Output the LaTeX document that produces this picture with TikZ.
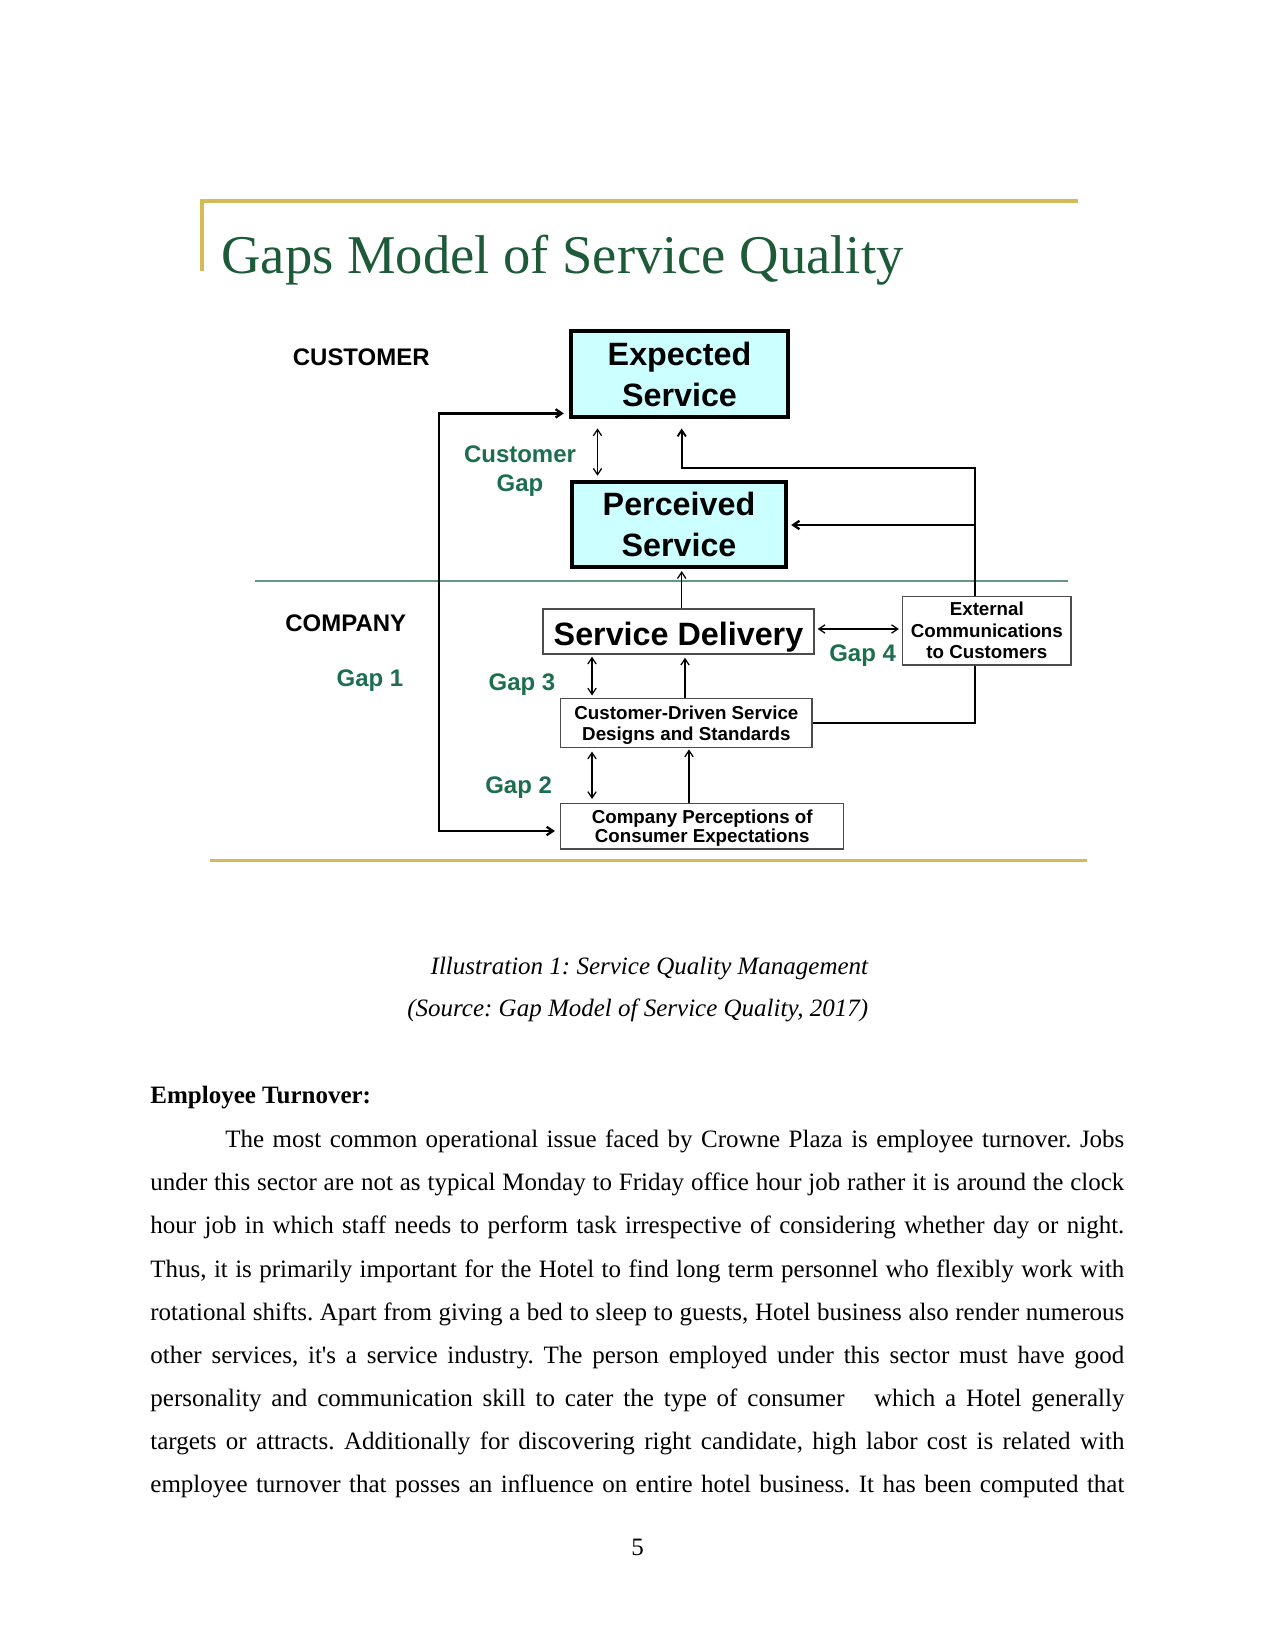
\documentclass[tikz,border=0pt]{standalone}
\usepackage{fontspec}
\setmainfont{Liberation Serif}
\setsansfont{Liberation Sans}
\usetikzlibrary{arrows.meta}

\definecolor{gapgreen}{RGB}{28,110,78}
\definecolor{titlegreen}{RGB}{28,90,56}
\definecolor{rulegold}{RGB}{214,186,86}
\definecolor{divider}{RGB}{100,150,130}
\definecolor{boxcyan}{RGB}{204,255,255}

\begin{document}
\begin{tikzpicture}[x=0.48pt,y=-0.48pt,
    bigbox/.style={draw=black,line width=2pt,fill=boxcyan,inner sep=0pt,align=center,
      font=\sffamily\bfseries\fontsize{15.5}{19.7}\selectfont},
    smallbox/.style={draw=black!70,line width=0.6pt,fill=white,inner sep=0pt,align=center,
      font=\sffamily\bfseries\fontsize{9}{10.3}\selectfont},
    side/.style={anchor=west,inner sep=0pt,font=\sffamily\bfseries\fontsize{11.5}{14}\selectfont},
    gaplabel/.style={text=gapgreen,inner sep=0pt,align=center,
      font=\sffamily\bfseries\fontsize{11.5}{14.2}\selectfont},
    thinarrow/.style={line width=0.6pt,-{Straight Barb[length=3pt,width=4pt]}},
    twoway/.style={line width=0.6pt,{Straight Barb[length=3pt,width=4pt]}-{Straight Barb[length=3pt,width=4pt]}},
    feed/.style={line width=1.1pt},
    goldrule/.style={draw=rulegold,line width=1.5pt},
    body/.style={inner sep=0pt,font=\frenchspacing\fontsize{12}{20.7}\selectfont}]

  \fill[white] (0,0) rectangle (1275,1650);
  \useasboundingbox (0,0) rectangle (1275,1650);

  % frame of the slide
  \draw[goldrule] (202,271) -- (202,201) -- (1078,201);
  \draw[goldrule] (210,860.5) -- (1086.7,860.5);
  \node[anchor=base west,inner sep=0pt,text=titlegreen,
    font=\fontsize{26.2}{30}\selectfont] (title) at (221,273.5) {Gaps Model of Service Quality};

  % customer side
  \node[side] (customer) at (292.5,357.7) {CUSTOMER};
  \node[bigbox,minimum width=104pt,minimum height=41.3pt] (exp) at (679.5,374) {Expected\\Service};
  \node[bigbox,minimum width=102.7pt,minimum height=40.8pt,text depth=-3.4pt] (perc) at (679,524.5) {Perceived\\Service};
  \node[gaplabel] (custgap) at (520,471.3) {Customer\\Gap};

  \draw[divider,line width=1pt] (254.6,580.7) -- (1068,580.7);

  % company side
  \node[side] (company) at (285,622.8) {COMPANY};
  \node[gaplabel] (gap1) at (370,680.8) {Gap 1};
  \node[smallbox,minimum width=130pt,minimum height=21.6pt,text height=16.5pt,text depth=3.3pt,
    font=\sffamily\bfseries\fontsize{15.5}{18}\selectfont] (sd) at (678.5,631.5) {Service Delivery};
  \node[smallbox,minimum width=80.8pt,minimum height=32.9pt] (ext) at (986.8,630.7) {External\\Communications\\to Customers};
  \node[smallbox,minimum width=120.6pt,minimum height=23.8pt,text depth=0pt] (cd) at (686.4,723) {Customer-Driven Service\\Designs and Standards};
  \node[smallbox,minimum width=135.8pt,minimum height=21.7pt,text depth=-2.1pt,
    font=\sffamily\bfseries\fontsize{9}{9.3}\selectfont] (cp) at (702.2,826.4) {Company Perceptions of\\Consumer Expectations};
  \node[gaplabel] (gap3) at (522,685) {Gap 3};
  \node[gaplabel] (gap2) at (518.6,788.1) {Gap 2};
  \node[gaplabel] (gap4) at (862.6,655.5) {Gap 4};

  % gap 1 loop
  \coordinate (g1top) at (438.7,413.4);
  \coordinate (g1bot) at (438.7,831);
  \draw[feed,{Straight Barb[length=3pt,width=4pt]}-{Straight Barb[length=3pt,width=4pt]},
    shorten <=2.5pt,shorten >=2.5pt] (g1top -| exp.west) -- (g1top) -- (g1bot) -- (g1bot -| cp.west);

  % external communications feedback
  \coordinate (fbtop) at (975,468);
  \coordinate (fbmid) at (975,525);
  \draw[feed,line width=0.9pt,-{Straight Barb[length=3pt,width=4pt]},shorten >=4.5pt]
    (ext.north -| fbtop) -- (fbtop) -| (exp.south -| 681.7,0);
  \draw[feed,-{Straight Barb[length=3pt,width=4pt]},shorten >=1.5pt] (fbmid) -- (fbmid -| perc.east);
  \draw[feed] (ext.south -| fbtop) |- (cd.east);

  % gaps between the boxes
  \draw[twoway,shorten <=4.5pt,shorten >=2pt] (exp.south -| 597.5,0) -- (perc.north -| 597.5,0);
  \draw[thinarrow,shorten >=1pt] (sd.north -| 681.7,0) -- (perc.south -| 681.7,0);
  \draw[twoway,shorten <=1.5pt,shorten >=1.5pt] (sd.east |- 0,629) -- (ext.west |- 0,629);
  \draw[twoway,shorten <=1pt,shorten >=1pt] (sd.south -| 592,0) -- (cd.north -| 592,0);
  \draw[thinarrow,shorten >=1.5pt] (cd.north -| 685,0) -- (sd.south -| 685,0);
  \draw[twoway,shorten <=1.5pt,shorten >=2pt] (cd.south -| 592,0) -- (cp.north -| 592,0);
  \draw[thinarrow,shorten >=0.5pt] (cp.north -| 689,0) -- (cd.south -| 689,0);

  % caption and page text
  \node[body,anchor=base east,font=\frenchspacing\itshape\fontsize{12}{14}\selectfont] (cap1) at (868.5,974) {Illustration 1: Service Quality Management};
  \node[body,anchor=base east,font=\frenchspacing\itshape\fontsize{12}{14}\selectfont] (cap2) at (868.5,1016) {(Source: Gap Model of Service Quality, 2017)};
  \node[body,anchor=base west,font=\bfseries\fontsize{12}{14}\selectfont] (head) at (150,1103.6) {Employee Turnover:};
  \node[body,anchor=north west,text width=467.5pt,align=justify] (para) at (150,1129.6)
    {\hyphenpenalty=10000 \tolerance=10000 \hspace*{36pt}The most common operational issue faced by Crowne Plaza is employee turnover. Jobs\linebreak
    under this sector are not as typical Monday to Friday office hour job rather it is around the clock\linebreak
    hour job in which staff needs to perform task irrespective of considering whether day or night.\linebreak
    Thus, it is primarily important for the Hotel to find long term personnel who flexibly work with\linebreak
    rotational shifts. Apart from giving a bed to sleep to guests, Hotel business also render numerous\linebreak
    other services, it\textquotesingle s a service industry. The person employed under this sector must have good\linebreak
    personality and communication skill to cater the type of consumer\ \ \ which a Hotel generally\linebreak
    targets or attracts. Additionally for discovering right candidate, high labor cost is related with\linebreak
    employee turnover that posses an influence on entire hotel business. It has been computed that\parfillskip=0pt\par};
  \node[body,anchor=base] (pagenum) at (637.5,1555) {5};
\end{tikzpicture}
\end{document}
